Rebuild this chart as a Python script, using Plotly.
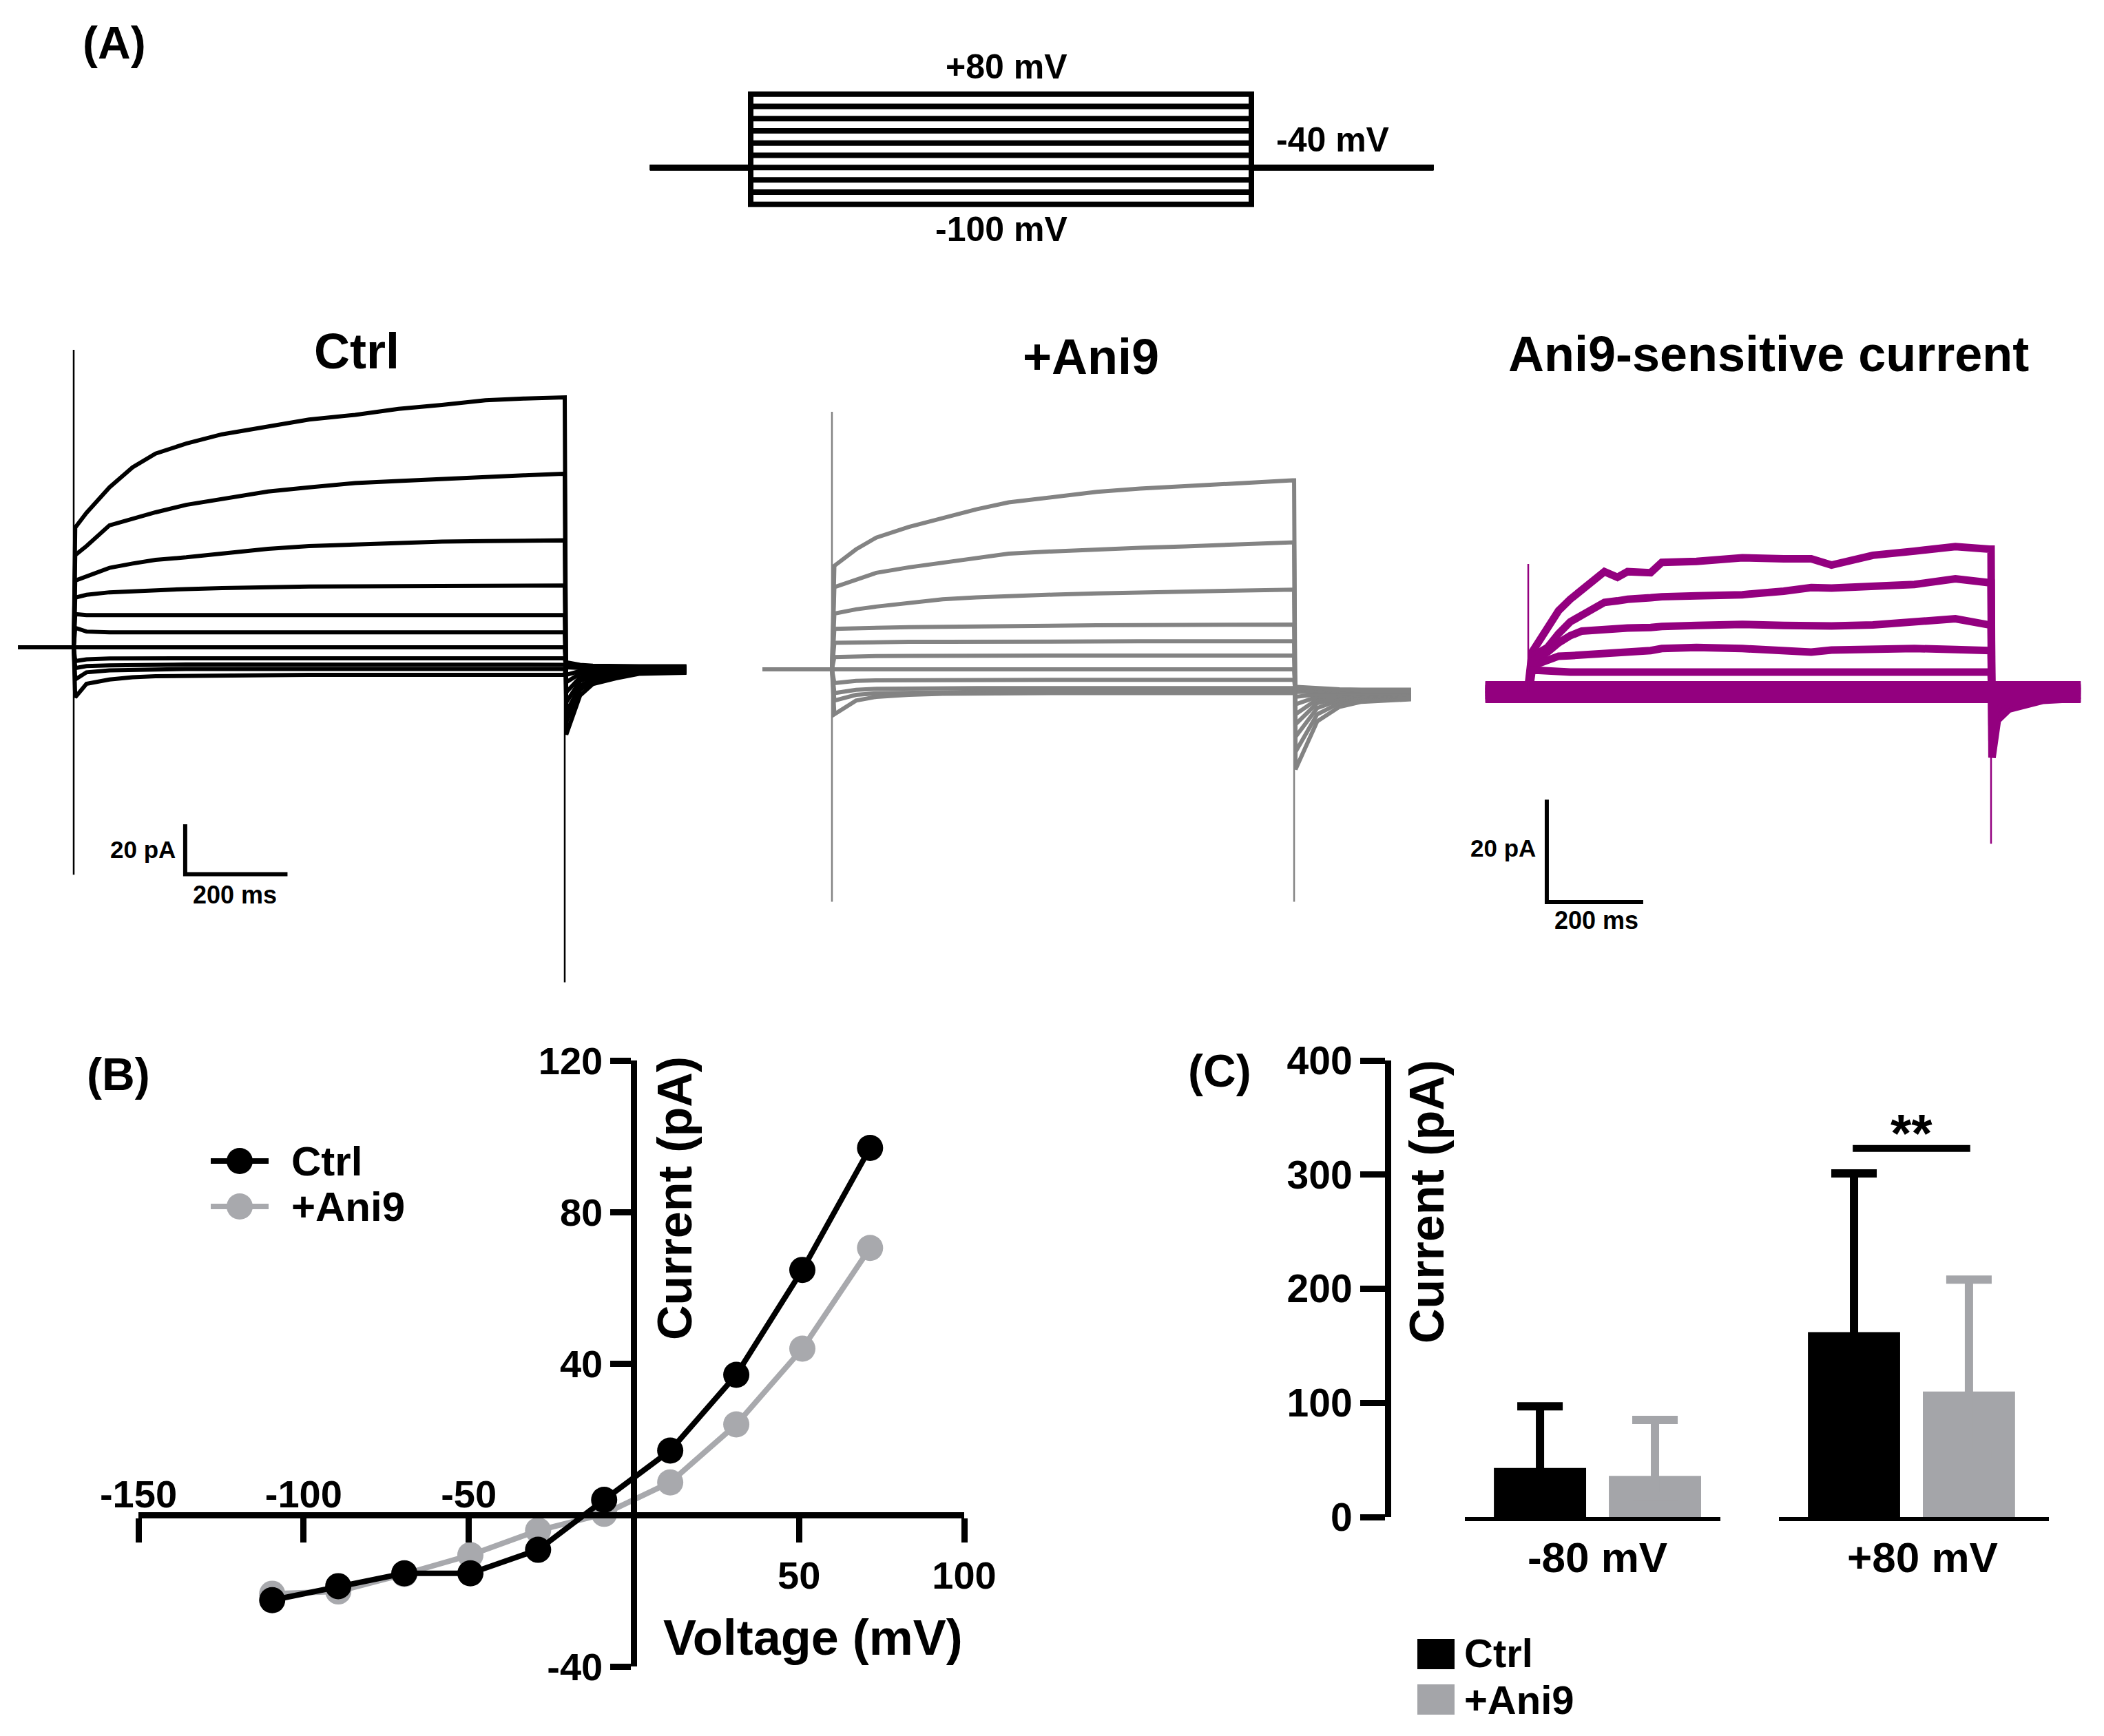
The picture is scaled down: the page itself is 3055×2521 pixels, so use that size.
import plotly.graph_objects as go

# ======================= DATA =======================
# (A) voltage-step protocol
PROTO_STEP_MV = [80, 60, 40, 20, 0, -20, -40, -60, -80, -100]
PROTO_HOLD_MV = -40
PROTO_TIME_MS = [-193, 0, 960, 1309]      # holding start, step on, step off, holding end

PULSE_ON_MS = 0
PULSE_OFF_MS = 960

# (A) Ctrl current traces (pA), 11 sweeps
CTRL_PRE_MS = -108
CTRL_T = [3, 25, 70, 115, 160, 220, 290, 380, 460, 550, 635, 720, 805, 880, 957]
CTRL_I = [
    [47.9, 53.8, 64.0, 72.0, 77.5, 81.5, 85.2, 88.5, 91.1, 93.0, 95.4, 97.0, 98.8, 99.5, 100.0],
    [36.9, 40.5, 48.8, 51.5, 54.0, 57.0, 59.5, 62.3, 64.0, 65.7, 66.5, 67.4, 68.0, 68.8, 69.4],
    [26.7, 28.5, 31.8, 33.5, 35.0, 36.0, 37.5, 39.4, 40.5, 41.2, 42.0, 42.3, 42.5, 42.7, 42.8],
    [19.9, 21.0, 22.0, 22.5, 23.0, 23.3, 23.7, 24.2, 24.3, 24.4, 24.5, 24.5, 24.6, 24.7, 24.7],
    [13.3, 12.9, 12.9, 12.9, 12.9, 12.9, 12.9, 12.9, 12.9, 12.9, 12.9, 12.9, 12.9, 12.9, 12.9],
    [7.8, 6.3, 6.0, 6.0, 6.0, 6.0, 6.0, 6.0, 6.0, 6.0, 6.0, 6.0, 6.0, 6.0, 6.0],
    [0.0, 0.0, 0.0, 0.0, 0.0, 0.0, 0.0, 0.0, 0.0, 0.0, 0.0, 0.0, 0.0, 0.0, 0.0],
    [-5.5, -4.8, -4.5, -4.4, -4.4, -4.4, -4.4, -4.4, -4.4, -4.4, -4.4, -4.4, -4.4, -4.4, -4.4],
    [-8.3, -7.5, -7.2, -7.0, -6.9, -6.9, -6.9, -6.9, -6.9, -6.9, -6.9, -6.9, -6.9, -6.9, -6.9],
    [-12.9, -10.0, -9.2, -9.0, -8.8, -8.7, -8.7, -8.7, -8.7, -8.7, -8.7, -8.7, -8.7, -8.7, -8.7],
    [-20.0, -14.6, -12.9, -12.0, -11.6, -11.4, -11.2, -11.1, -11.0, -11.0, -11.0, -11.0, -11.0, -11.0, -11.0],
]
CTRL_TAIL_T = [963, 990, 1015, 1060, 1105, 1198]
CTRL_TAIL_I = [
    [-34.9, -19.3, -14.7, -12.4, -10.6, -10.2],
    [-30.0, -17.0, -13.5, -11.6, -10.2, -9.9],
    [-26.0, -15.5, -12.5, -11.0, -9.9, -9.6],
    [-22.0, -13.5, -11.5, -10.3, -9.6, -9.4],
    [-18.0, -12.0, -10.5, -9.8, -9.3, -9.2],
    [-14.0, -10.5, -9.8, -9.3, -9.1, -9.0],
    [-11.0, -9.5, -9.2, -9.0, -8.9, -8.8],
    [-8.0, -8.3, -8.5, -8.5, -8.5, -8.5],
    [-7.0, -7.8, -8.1, -8.2, -8.2, -8.2],
    [-6.5, -7.4, -7.8, -7.9, -7.9, -7.9],
    [-6.0, -7.0, -7.4, -7.6, -7.6, -7.6],
]
CTRL_ON_SPIKE = [-91, 119]
CTRL_OFF_SPIKE = [-134, 100]

# (A) +Ani9 current traces (pA), 11 sweeps
ANI9_PRE_MS = -144
ANI9_T = [5, 50, 92, 160, 230, 300, 367, 460, 550, 640, 734, 850, 957]
ANI9_I = [
    [41.4, 48.0, 52.7, 57.0, 60.5, 64.0, 66.8, 69.0, 71.0, 72.3, 73.4, 74.6, 75.6],
    [32.9, 36.0, 38.6, 40.8, 42.8, 44.6, 46.3, 47.2, 48.0, 48.6, 49.2, 50.0, 50.8],
    [22.3, 24.0, 25.1, 26.7, 28.0, 28.8, 29.4, 29.9, 30.4, 30.8, 31.2, 31.6, 31.9],
    [16.2, 16.5, 16.7, 16.9, 17.0, 17.2, 17.3, 17.5, 17.6, 17.7, 17.8, 17.9, 17.9],
    [10.6, 10.8, 11.0, 11.0, 11.0, 11.1, 11.1, 11.1, 11.2, 11.2, 11.2, 11.2, 11.2],
    [4.9, 5.2, 5.3, 5.4, 5.5, 5.5, 5.5, 5.5, 5.5, 5.5, 5.5, 5.5, 5.5],
    [0.0, 0.0, 0.0, 0.0, 0.0, 0.0, 0.0, 0.0, 0.0, 0.0, 0.0, 0.0, 0.0],
    [-5.5, -4.6, -4.4, -4.3, -4.2, -4.2, -4.2, -4.2, -4.2, -4.2, -4.2, -4.2, -4.2],
    [-9.5, -8.2, -7.8, -7.6, -7.5, -7.5, -7.5, -7.5, -7.5, -7.5, -7.5, -7.5, -7.5],
    [-12.5, -10.2, -9.6, -9.3, -9.1, -9.0, -9.0, -9.0, -9.0, -9.0, -9.0, -9.0, -9.0],
    [-18.0, -12.5, -11.0, -10.2, -9.8, -9.6, -9.5, -9.5, -9.5, -9.5, -9.5, -9.5, -9.5],
]
ANI9_TAIL_T = [963, 1008, 1054, 1100, 1203]
ANI9_TAIL_I = [
    [-40.0, -20.8, -15.0, -13.0, -12.0],
    [-33.0, -18.0, -13.5, -12.0, -11.4],
    [-27.0, -15.5, -12.3, -11.0, -10.8],
    [-22.0, -13.5, -11.5, -10.5, -10.3],
    [-18.0, -12.0, -10.8, -10.2, -10.0],
    [-14.0, -11.0, -10.3, -9.9, -9.7],
    [-11.0, -10.0, -9.6, -9.4, -9.3],
    [-9.0, -9.0, -9.0, -9.0, -9.0],
    [-8.0, -8.5, -8.7, -8.7, -8.7],
    [-7.5, -8.0, -8.3, -8.4, -8.4],
    [-7.0, -7.6, -8.0, -8.1, -8.1],
]
ANI9_ON_SPIKE = [-93, 103]
ANI9_OFF_SPIKE = [-93, 76]

# (A) Ani9-sensitive current traces (pA), 11 sweeps
SENS_PRE_MS = -89
SENS_PRE_I = [1.2, 0.6, 0.0, -0.6, -1.2, 1.4, 0.7, 0.0, -0.7, -1.4, 0.3]
SENS_T = [8, 40, 63, 87, 111, 135, 158, 185, 206, 254, 277, 349, 444, 530, 587, 629, 715, 801, 886, 957]
SENS_I = [
    [7.8, 12.8, 15.9, 18.1, 19.9, 21.7, 23.5, 22.4, 23.5, 23.3, 25.3, 25.5, 26.2, 26.0, 26.0, 24.8, 26.7, 27.5, 28.4, 27.9],
    [6.9, 8.7, 11.4, 13.7, 15.0, 16.4, 17.5, 17.8, 18.1, 18.4, 18.6, 18.8, 19.0, 19.7, 20.4, 20.3, 20.5, 21.0, 22.1, 21.3],
    [6.0, 7.8, 9.6, 11.0, 11.9, 12.1, 12.3, 12.4, 12.5, 12.6, 12.8, 13.0, 13.2, 13.0, 12.8, 12.9, 13.1, 13.7, 14.3, 13.1],
    [5.1, 6.0, 7.0, 7.1, 7.2, 7.3, 7.4, 7.6, 7.8, 8.1, 8.5, 8.7, 8.5, 8.1, 7.8, 8.2, 8.5, 8.5, 8.3, 8.1],
    [4.3, 4.0, 3.9, 3.9, 3.9, 3.9, 3.9, 3.9, 3.9, 3.9, 3.9, 3.9, 3.9, 3.9, 3.9, 3.9, 3.9, 3.9, 3.9, 3.9],
    [1.4, 1.4, 1.4, 1.4, 1.4, 1.4, 1.4, 1.4, 1.4, 1.4, 1.4, 1.4, 1.4, 1.4, 1.4, 1.4, 1.4, 1.4, 1.4, 1.4],
    [0.7, 0.7, 0.7, 0.7, 0.7, 0.7, 0.7, 0.7, 0.7, 0.7, 0.7, 0.7, 0.7, 0.7, 0.7, 0.7, 0.7, 0.7, 0.7, 0.7],
    [0.0, 0.0, 0.0, 0.0, 0.0, 0.0, 0.0, 0.0, 0.0, 0.0, 0.0, 0.0, 0.0, 0.0, 0.0, 0.0, 0.0, 0.0, 0.0, 0.0],
    [-0.7, -0.7, -0.7, -0.7, -0.7, -0.7, -0.7, -0.7, -0.7, -0.7, -0.7, -0.7, -0.7, -0.7, -0.7, -0.7, -0.7, -0.7, -0.7, -0.7],
    [-1.4, -1.4, -1.4, -1.4, -1.4, -1.4, -1.4, -1.4, -1.4, -1.4, -1.4, -1.4, -1.4, -1.4, -1.4, -1.4, -1.4, -1.4, -1.4, -1.4],
    [0.3, 0.3, 0.3, 0.3, 0.3, 0.3, 0.3, 0.3, 0.3, 0.3, 0.3, 0.3, 0.3, 0.3, 0.3, 0.3, 0.3, 0.3, 0.3, 0.3],
]
SENS_TAIL_T = [962, 973, 997, 1068, 1146]
SENS_TAIL_I = [
    [-12.8, -5.5, -3.3, -1.6, -1.2],
    [-9.5, -4.0, -2.2, -0.8, -0.6],
    [-6.5, -2.8, -1.2, 0.0, 0.0],
    [-3.5, -1.0, 0.2, 0.8, 0.8],
    [-1.0, 0.5, 1.0, 1.2, 1.2],
    [1.4, 1.4, 1.4, 1.4, 1.4],
    [0.7, 0.7, 0.7, 0.7, 0.7],
    [0.0, 0.0, 0.0, 0.0, 0.0],
    [-0.7, -0.7, -0.7, -0.7, -0.7],
    [-1.4, -1.4, -1.4, -1.4, -1.4],
    [0.3, 0.3, 0.3, 0.3, 0.3],
]
SENS_ON_SPIKE = [0, 25]
SENS_OFF_SPIKE = [-29.6, 28]

SCALE_MS = 200
SCALE_PA = 20

# (B) I-V relationship
IV_MV = [-109.5, -89.5, -69.5, -49.5, -29, -9, 11, 31, 51, 71.5]
IV_CTRL_PA = [-22.5, -18.8, -15.4, -15.4, -9.2, 4.0, 17.0, 37.0, 64.7, 96.9]
IV_ANI9_PA = [-20.8, -20.2, -15.6, -10.6, -4.1, 0.3, 8.6, 23.9, 43.9, 70.5]
IV_X_TICKS = [-150, -100, -50, 50, 100]
IV_Y_TICKS = [-40, 40, 80, 120]

# (C) mean current at -80 / +80 mV
BAR_CATS = ["-80 mV", "+80 mV"]
BAR_CTRL_MEAN = [43, 162]
BAR_CTRL_SD = [54, 139]
BAR_ANI9_MEAN = [36, 110]
BAR_ANI9_SD = [49, 98]
BAR_Y_TICKS = [0, 100, 200, 300, 400]
SIG_LABEL = "**"
SIG_LEVEL_PA = 323

# ======================= LAYOUT HELPERS =======================
OFF = 8
W, H = 3055 - 2 * OFF, 2521 - 2 * OFF
FONT = "Liberation Sans, Arial, Helvetica, sans-serif"
BLACK = "#000000"
TRACE_GRAY = "#838383"
PURPLE = "#93007f"
IV_GRAY = "#a8a9ad"
BAR_GRAY = "#a4a5a9"


def px(x):
    return (x - OFF) / W


def py(y):
    return 1 - (y - OFF) / H


def hrange(p0, p1, ref_px, ref_val, k):
    return [ref_val + (p0 - ref_px) / k, ref_val + (p1 - ref_px) / k]


def vrange(p_top, p_bot, ref_px, ref_val, k):
    return [ref_val + (ref_px - p_bot) / k, ref_val + (ref_px - p_top) / k]


def bold(size, color=BLACK):
    return dict(family=FONT, size=size, color=color, weight="bold")


fig = go.Figure()

# ---------- protocol ----------
for v in PROTO_STEP_MV:
    t0, ton, toff, tend = PROTO_TIME_MS
    fig.add_trace(go.Scatter(
        x=[t0, ton, ton, toff, toff, tend],
        y=[PROTO_HOLD_MV, PROTO_HOLD_MV, v, v, PROTO_HOLD_MV, PROTO_HOLD_MV],
        mode="lines", line=dict(color=BLACK, width=8),
        xaxis="x", yaxis="y", hoverinfo="skip", showlegend=False))


# ---------- current traces ----------
def add_sweeps(pre_t0, pre_levels, pulse_t, rows, tail_t, tail_rows, on_spike, off_spike,
               color, width, xa, ya):
    for k, row in enumerate(rows):
        pre = pre_levels[k]
        xs = [pre_t0, PULSE_ON_MS] + list(pulse_t) + [PULSE_OFF_MS] + list(tail_t)
        ys = [pre, pre] + list(row) + [row[-1]] + list(tail_rows[k])
        fig.add_trace(go.Scatter(x=xs, y=ys, mode="lines",
                                 line=dict(color=color, width=width),
                                 xaxis=xa, yaxis=ya, hoverinfo="skip", showlegend=False))
    fig.add_trace(go.Scatter(
        x=[PULSE_ON_MS, PULSE_ON_MS, None, PULSE_OFF_MS, PULSE_OFF_MS],
        y=[on_spike[0], on_spike[1], None, off_spike[0], off_spike[1]],
        mode="lines", line=dict(color=color, width=2.5),
        xaxis=xa, yaxis=ya, hoverinfo="skip", showlegend=False))


add_sweeps(CTRL_PRE_MS, [0.0] * len(CTRL_I), CTRL_T, CTRL_I, CTRL_TAIL_T, CTRL_TAIL_I,
           CTRL_ON_SPIKE, CTRL_OFF_SPIKE, BLACK, 6, "x2", "y2")
add_sweeps(ANI9_PRE_MS, [0.0] * len(ANI9_I), ANI9_T, ANI9_I, ANI9_TAIL_T, ANI9_TAIL_I,
           ANI9_ON_SPIKE, ANI9_OFF_SPIKE, TRACE_GRAY, 6, "x3", "y3")
add_sweeps(SENS_PRE_MS, SENS_PRE_I, SENS_T, SENS_I, SENS_TAIL_T, SENS_TAIL_I,
           SENS_ON_SPIKE, SENS_OFF_SPIKE, PURPLE, 11, "x4", "y4")


def add_scalebar(t_origin, i_origin, xa, ya):
    fig.add_trace(go.Scatter(
        x=[t_origin, t_origin, t_origin + SCALE_MS],
        y=[i_origin + SCALE_PA, i_origin, i_origin],
        mode="lines", line=dict(color=BLACK, width=6),
        xaxis=xa, yaxis=ya, hoverinfo="skip", showlegend=False))


add_scalebar(218, -90.8, "x2", "y2")
add_scalebar(38.5, -41.0, "x4", "y4")

# ---------- (B) I-V ----------
fig.add_trace(go.Scatter(x=IV_MV, y=IV_ANI9_PA, mode="lines+markers",
                         line=dict(color=IV_GRAY, width=8),
                         marker=dict(color=IV_GRAY, size=38),
                         xaxis="x5", yaxis="y5", showlegend=False, hoverinfo="skip"))
fig.add_trace(go.Scatter(x=IV_MV, y=IV_CTRL_PA, mode="lines+markers",
                         line=dict(color=BLACK, width=8),
                         marker=dict(color=BLACK, size=38),
                         xaxis="x5", yaxis="y5", showlegend=False, hoverinfo="skip"))
fig.add_trace(go.Scatter(x=[None], y=[None], xaxis="x6", yaxis="y5",
                         showlegend=False, hoverinfo="skip"))

# ---------- (C) bars (upper error bars only; the lower end stays hidden inside the bar) ----------
for j, xa in enumerate(["x7", "x8"]):
    fig.add_trace(go.Bar(x=[BAR_CATS[j]], y=[BAR_CTRL_MEAN[j]], marker=dict(color=BLACK, line=dict(width=0)),
                         error_y=dict(type="data", symmetric=False, array=[BAR_CTRL_SD[j]],
                                      arrayminus=[BAR_CTRL_MEAN[j] / 2],
                                      color=BLACK, thickness=12, width=33),
                         xaxis=xa, yaxis="y7", showlegend=False, hoverinfo="skip"))
    fig.add_trace(go.Bar(x=[BAR_CATS[j]], y=[BAR_ANI9_MEAN[j]], marker=dict(color=BAR_GRAY, line=dict(width=0)),
                         error_y=dict(type="data", symmetric=False, array=[BAR_ANI9_SD[j]],
                                      arrayminus=[BAR_ANI9_MEAN[j] / 2],
                                      color=BAR_GRAY, thickness=12, width=33),
                         xaxis=xa, yaxis="y7", showlegend=False, hoverinfo="skip"))

# ======================= AXES =======================
hidden = dict(visible=False, showgrid=False, zeroline=False, fixedrange=True)

# protocol: 960 ms spans 727 px, 180 mV spans 160 px
k_pt, k_pv = 727 / 960, 160 / 180
layout_axes = dict(
    xaxis=dict(hidden, domain=[px(930), px(2100)], range=hrange(930, 2100, 1090, 0, k_pt), anchor="y"),
    yaxis=dict(hidden, domain=[py(320), py(120)], range=vrange(120, 320, 136.7, 80, k_pv), anchor="x"),
    xaxis2=dict(hidden, domain=[px(20), px(1005)], range=hrange(20, 1005, 107, 0, 0.7427), anchor="y2"),
    yaxis2=dict(hidden, domain=[py(1450), py(470)], range=vrange(470, 1450, 940, 0, 3.63), anchor="x2"),
    xaxis3=dict(hidden, domain=[px(1095), px(2060)], range=hrange(1095, 2060, 1208, 0, 0.699), anchor="y3"),
    yaxis3=dict(hidden, domain=[py(1450), py(470)], range=vrange(470, 1450, 972, 0, 3.63), anchor="x3"),
    xaxis4=dict(hidden, domain=[px(2140), px(3040)], range=hrange(2140, 3040, 2219, 0, 0.70), anchor="y4"),
    yaxis4=dict(hidden, domain=[py(1450), py(470)], range=vrange(470, 1450, 1005, 0, 7.44), anchor="x4"),
)

# (B) axes crossing at the origin
B_X0, B_X1, B_Y0, B_Y1 = 201, 1400, 1540, 2420
B_XR, B_YR = [-150, 100], [-40, 120]
b_origin_x = B_X0 + (0 - B_XR[0]) / (B_XR[1] - B_XR[0]) * (B_X1 - B_X0)
b_origin_y = B_Y1 - (0 - B_YR[0]) / (B_YR[1] - B_YR[0]) * (B_Y1 - B_Y0)
tick_lbl = [str(v) for v in IV_X_TICKS]
layout_axes.update(
    xaxis5=dict(domain=[px(B_X0), px(B_X1)], range=B_XR, anchor="free", position=py(b_origin_y),
                showline=True, linewidth=9, linecolor=BLACK, showgrid=False, zeroline=False,
                ticks="outside", ticklen=35, tickwidth=9, tickcolor=BLACK,
                tickvals=IV_X_TICKS, ticktext=[t if v > 0 else "" for v, t in zip(IV_X_TICKS, tick_lbl)],
                tickfont=bold(56), automargin=False, fixedrange=True),
    xaxis6=dict(domain=[px(B_X0), px(B_X1)], range=B_XR, anchor="free", position=py(b_origin_y),
                overlaying="x5", side="top", showline=False, showgrid=False, zeroline=False,
                ticks="", tickvals=[v for v in IV_X_TICKS if v < 0],
                ticktext=[t for v, t in zip(IV_X_TICKS, tick_lbl) if v < 0],
                tickfont=bold(56), automargin=False, fixedrange=True),
    yaxis5=dict(domain=[py(B_Y1), py(B_Y0)], range=B_YR, anchor="free", position=px(b_origin_x),
                showline=True, linewidth=9, linecolor=BLACK, showgrid=False, zeroline=False,
                ticks="outside", ticklen=30, tickwidth=9, tickcolor=BLACK,
                tickvals=IV_Y_TICKS, ticktext=[str(v) for v in IV_Y_TICKS],
                tickfont=bold(56), automargin=False, fixedrange=True),
)

# (C) axes: one y axis, two broken x baselines
C_Y0, C_Y1 = 1540, 2203
layout_axes.update(
    yaxis7=dict(domain=[py(C_Y1), py(C_Y0)], range=[0, 400], anchor="free", position=px(2015),
                showline=True, linewidth=9, linecolor=BLACK, showgrid=False, zeroline=False,
                ticks="outside", ticklen=36, tickwidth=9, tickcolor=BLACK,
                tickvals=BAR_Y_TICKS, ticktext=[str(v) for v in BAR_Y_TICKS],
                tickfont=bold(57), automargin=False, fixedrange=True),
    xaxis7=dict(domain=[px(2127), px(2498)], range=[-0.519, 0.481], anchor="y7", type="category",
                showline=True, linewidth=6, linecolor=BLACK, showgrid=False, zeroline=False,
                ticks="", tickfont=bold(62), ticklabelstandoff=0, automargin=False, fixedrange=True),
    xaxis8=dict(domain=[px(2583), px(2975)], range=[-0.519, 0.538], anchor="y7", type="category",
                showline=True, linewidth=6, linecolor=BLACK, showgrid=False, zeroline=False,
                ticks="", tickfont=bold(62), ticklabelstandoff=0, ticklabelshift=16,
                automargin=False, fixedrange=True),
)


# ======================= TEXT =======================
def txt(x, y, s, size, xanchor="center", yanchor="middle", angle=0):
    return dict(x=px(x), y=py(y), xref="paper", yref="paper", text=s, showarrow=False,
                font=bold(size), xanchor=xanchor, yanchor=yanchor, textangle=angle)


annotations = [
    txt(166, 62, "(A)", 66),
    txt(172, 1560, "(B)", 66),
    txt(1771, 1555, "(C)", 66),
    txt(1461, 97, "+80 mV", 50),
    txt(1935, 203, "-40 mV", 50),
    txt(1454, 333, "-100 mV", 50),
    txt(518, 510, "Ctrl", 72),
    txt(1584, 518, "+Ani9", 72),
    txt(2568, 514, "Ani9-sensitive current", 72),
    txt(257, 1233, "20 pA", 35, xanchor="right"),
    txt(341, 1299, "200 ms", 36),
    txt(2232, 1231, "20 pA", 35, xanchor="right"),
    txt(2318, 1336, "200 ms", 36),
    txt(980, 1740, "Current (pA)", 70, angle=-90),
    txt(1180, 2378, "Voltage (mV)", 72),
    txt(421, 1686, "Ctrl", 60, xanchor="left"),
    txt(421, 1752, "+Ani9", 60, xanchor="left"),
    txt(2124, 2400, "Ctrl", 58, xanchor="left"),
    txt(2124, 2468, "+Ani9", 58, xanchor="left"),
    txt(2072, 1745, "Current (pA)", 70, angle=-90),
    dict(x=0, y=336, xref="x8", yref="y7", text=SIG_LABEL, showarrow=False,
         font=bold(78), xanchor="center", yanchor="middle"),
]


def pshape(kind, x0, y0, x1, y1, **kw):
    return dict(type=kind, xref="paper", yref="paper", x0=px(x0), x1=px(x1), y0=py(y0), y1=py(y1), **kw)


shapes = [
    # legend (B)
    pshape("line", 306, 1686, 390, 1686, line=dict(color=BLACK, width=8)),
    pshape("circle", 329, 1667, 367, 1705, fillcolor=BLACK, line=dict(width=0)),
    pshape("line", 306, 1752, 390, 1752, line=dict(color=IV_GRAY, width=8)),
    pshape("circle", 329, 1733, 367, 1771, fillcolor=IV_GRAY, line=dict(width=0)),
    # legend (C)
    pshape("rect", 2058, 2380, 2112, 2424, fillcolor=BLACK, line=dict(width=0)),
    pshape("rect", 2058, 2446, 2112, 2490, fillcolor=BAR_GRAY, line=dict(width=0)),
    # significance bracket
    dict(type="line", xref="x8", yref="y7", x0=-0.23, x1=0.23, y0=SIG_LEVEL_PA, y1=SIG_LEVEL_PA,
         line=dict(color=BLACK, width=10)),
]

fig.update_layout(
    width=W, height=H,
    margin=dict(l=0, r=0, t=0, b=0, pad=0, autoexpand=False),
    paper_bgcolor="white", plot_bgcolor="rgba(0,0,0,0)",
    font=dict(family=FONT, color=BLACK, weight="bold"),
    barmode="group", bargap=0.1, bargroupgap=0.198,
    showlegend=False,
    annotations=annotations,
    shapes=shapes,
    **layout_axes,
)

fig.write_html("out.html")
